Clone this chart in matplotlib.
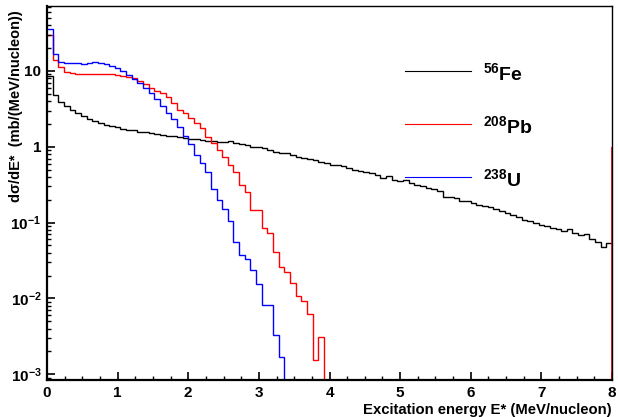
import matplotlib
matplotlib.use("Agg")
import matplotlib.pyplot as plt
import numpy as np
from matplotlib.ticker import LogLocator, NullFormatter, MultipleLocator

plt.rcParams['font.family'] = ['Liberation Sans', 'DejaVu Sans']
plt.rcParams['font.weight'] = 'bold'
plt.rcParams['mathtext.fontset'] = 'custom'
plt.rcParams['mathtext.rm'] = 'Liberation Sans:bold'
plt.rcParams['mathtext.bf'] = 'Liberation Sans:bold'
plt.rcParams['mathtext.default'] = 'bf'

# 100 bins of 0.08 MeV/nucleon between 0 and 8
bin_edges = np.linspace(0, 8, 101)

fe56 = [8.6, 4.8, 3.85, 3.4, 3.07, 2.78, 2.56, 2.32, 2.16, 2.05,
        1.95, 1.86, 1.80, 1.72, 1.68, 1.64, 1.59, 1.55, 1.51, 1.48,
        1.44, 1.40, 1.37, 1.34, 1.31, 1.27, 1.25, 1.22, 1.20, 1.18,
        1.16, 1.14, 1.20, 1.11, 1.09, 1.05, 1.00, 0.98, 0.95, 0.92,
        0.86, 0.84, 0.82, 0.78, 0.74, 0.71, 0.70, 0.66, 0.63, 0.61,
        0.58, 0.57, 0.55, 0.52, 0.50, 0.48, 0.47, 0.45, 0.42, 0.39,
        0.41, 0.36, 0.35, 0.36, 0.33, 0.31, 0.30, 0.29, 0.28, 0.26,
        0.22, 0.215, 0.21, 0.195, 0.19, 0.18, 0.17, 0.165, 0.16, 0.15,
        0.14, 0.135, 0.125, 0.12, 0.109, 0.104, 0.10, 0.093, 0.089, 0.085,
        0.082, 0.078, 0.082, 0.072, 0.068, 0.070, 0.060, 0.056, 0.047, 0.053]

pb208 = [30, 14, 11.4, 9.8, 9.4, 9.2, 9.2, 9.1, 9.2, 9.1,
         9.0, 9.0, 8.8, 8.6, 8.4, 8.0, 7.3, 6.8, 6.0, 5.4,
         5.1, 4.5, 3.8, 3.1, 2.8, 2.4, 2.05, 1.76, 1.36, 1.11,
         0.91, 0.74, 0.58, 0.47, 0.31, 0.256, 0.145, 0.145, 0.085, 0.072,
         0.041, 0.026, 0.022, 0.0158, 0.0109, 0.0093, 0.0062, 0.00155, 0.0031, 0.0] + [0.0] * 50

u238 = [36, 16.7, 13.3, 12.8, 12.7, 12.6, 12.5, 12.8, 13.0, 12.8,
        12.5, 11.8, 10.9, 10.0, 8.9, 7.9, 7.0, 5.9, 5.1, 4.25,
        3.46, 2.83, 2.31, 1.85, 1.39, 1.10, 0.77, 0.62, 0.47, 0.28,
        0.20, 0.15, 0.104, 0.056, 0.037, 0.033, 0.024, 0.0155, 0.0083, 0.0083,
        0.0033, 0.0017] + [0.0] * 58

# overflow marker drawn by the Pb histogram on the upper edge
pb_edge_level = 1.0

series = [(fe56, 'black', r'$^{56}$Fe'),
          (pb208, 'red', r'$^{208}$Pb'),
          (u238, 'blue', r'$^{238}$U')]

fig = plt.figure(figsize=(6.18, 4.17), dpi=100)
ax = fig.add_axes([47 / 618, 36.7 / 417, 565 / 618, 374.3 / 417])
ax.set_yscale('log', nonpositive='clip')
ax.set_xlim(0, 8)
ax.set_ylim(8.3e-4, 72)

for vals, col, _ in series:
    ax.stairs(vals, bin_edges, color=col, lw=1.0, baseline=None)
ax.vlines(bin_edges[-1], 8.3e-4, pb_edge_level, color='red', lw=1.2)

# legend rows
for i, (_, col, lab) in enumerate(series):
    yy = 0.826 - i * 0.1415
    ax.plot([0.634, 0.750], [yy, yy], color=col, lw=0.8, transform=ax.transAxes)
    ax.text(0.772, yy - 0.005, lab, transform=ax.transAxes, fontsize=14,
            fontweight='bold', va='center', ha='left')

ax.xaxis.set_major_locator(MultipleLocator(1))
ax.xaxis.set_minor_locator(MultipleLocator(0.25))
ax.yaxis.set_minor_locator(LogLocator(base=10, subs=np.arange(2, 10), numticks=20))
ax.yaxis.set_minor_formatter(NullFormatter())
ytick_vals = [1e-3, 1e-2, 1e-1, 1, 10]
ytick_labs = [r'$10^{-3}$', r'$10^{-2}$', r'$10^{-1}$', '1', '10']
ax.set_yticks(ytick_vals)
ax.set_yticklabels(ytick_labs)

ax.tick_params(which='major', direction='in', length=6, width=1.2, labelsize=11, pad=4)
ax.tick_params(which='minor', direction='in', length=3, width=1.0)
ax.tick_params(top=False, right=False, which='both')
for lab in ax.get_xticklabels() + ax.get_yticklabels():
    lab.set_fontweight('bold')

for side in ['left', 'bottom']:
    ax.spines[side].set_linewidth(1.6)
for side in ['top', 'right']:
    ax.spines[side].set_linewidth(1.0)

ax.set_xlabel('Excitation energy E* (MeV/nucleon)', fontsize=10.7, fontweight='bold',
              ha='right', x=1.0, labelpad=2)
fig.text(16 / 618, 1 - 10 / 417, 'd\u03c3/dE*  (mb/(MeV/nucleon))', rotation=90,
         ha='center', va='top', fontsize=10.5, fontweight='bold')

fig.savefig('out.png', dpi=100)
